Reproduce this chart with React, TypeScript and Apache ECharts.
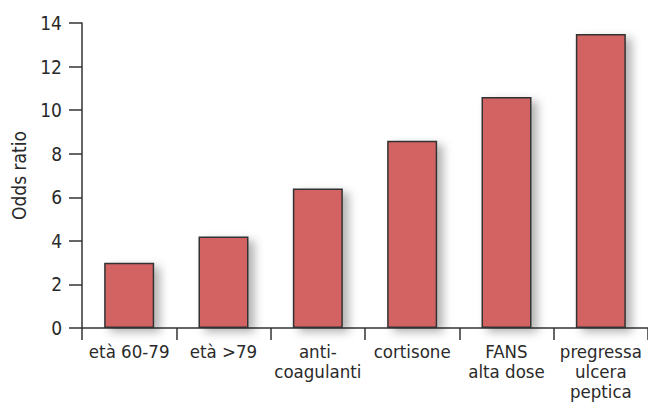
import React, { useEffect, useRef } from "react";
import * as echarts from "echarts";

const categories = ["età 60-79", "età >79", "anti-\ncoagulanti", "cortisone", "FANS\nalta dose", "pregressa\nulcera\npeptica"];
const oddsRatio = [3.0, 4.2, 6.4, 8.6, 10.6, 13.5];
const yTicks = { min: 0, max: 14, interval: 2 };
const yName = "Odds ratio";

const FONT = "'DejaVu Sans Condensed', 'DejaVu Sans', sans-serif";
const TEXT = "#2a2a2a";

export default function App() {
  const ref = useRef<HTMLDivElement>(null);
  useEffect(() => {
    const chart = echarts.init(ref.current!, null, { renderer: "svg" });
    chart.setOption({
      animation: false,
      grid: { left: 82, top: 23, width: 567, height: 305, containLabel: false },
      xAxis: {
        type: "category",
        data: categories,
        boundaryGap: true,
        axisLine: { show: true, lineStyle: { color: "#333", width: 1.5 } },
        axisTick: { show: true, length: 12, alignWithLabel: false, lineStyle: { color: "#333", width: 1.5 } },
        axisLabel: { interval: 0, margin: 13, fontFamily: FONT, fontSize: 18.5, color: TEXT, lineHeight: 20 },
      },
      yAxis: {
        type: "value",
        min: yTicks.min,
        max: yTicks.max,
        interval: yTicks.interval,
        name: yName,
        nameLocation: "middle",
        nameGap: 54,
        nameTextStyle: { fontFamily: FONT, fontSize: 19, color: TEXT },
        splitLine: { show: false },
        axisLine: { show: true, lineStyle: { color: "#333", width: 1.5 } },
        axisTick: { show: true, length: 13, lineStyle: { color: "#333", width: 1.5 } },
        axisLabel: { margin: 20, fontFamily: FONT, fontSize: 19, color: TEXT },
      },
      series: [
        {
          type: "bar",
          data: oddsRatio,
          barWidth: 50,
          itemStyle: {
            color: "#d36464",
            borderColor: "#333",
            borderWidth: 1.5,
            shadowColor: "rgba(0,0,0,0.3)",
            shadowBlur: 10,
            shadowOffsetX: 6,
            shadowOffsetY: 4,
          },
        },
      ],
    });
    return () => chart.dispose();
  }, []);
  return <div ref={ref} style={{ position: "fixed", left: 0, top: 0, width: 648, height: 404, background: "#fff" }} />;
}
